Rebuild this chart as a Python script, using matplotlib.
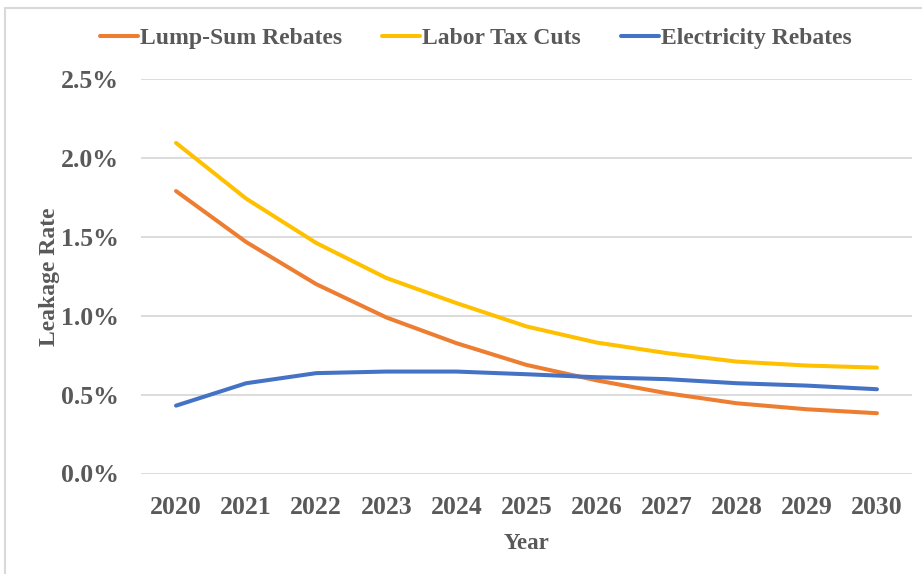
import numpy as np
import matplotlib
matplotlib.use("Agg")
import matplotlib.pyplot as plt
from matplotlib.patches import Rectangle
from matplotlib.ticker import FuncFormatter

years = [2020, 2021, 2022, 2023, 2024, 2025, 2026, 2027, 2028, 2029, 2030]
lump_sum = [1.79, 1.467, 1.20, 0.989, 0.826, 0.688, 0.59, 0.509, 0.445, 0.407, 0.382]
labor_tax = [2.095, 1.742, 1.461, 1.239, 1.08, 0.932, 0.83, 0.763, 0.709, 0.684, 0.671]
electricity = [0.43, 0.572, 0.636, 0.646, 0.646, 0.629, 0.61, 0.598, 0.572, 0.557, 0.534]

text_col = '#595959'
plt.rcParams['font.family'] = ['Liberation Serif', 'DejaVu Serif']
plt.rcParams['font.weight'] = 'bold'

fig = plt.figure(figsize=(9.22, 5.74), dpi=100)
ax = fig.add_axes([141/922, 1-473.5/574, (912-141)/922, (473.5-79)/574])

x = np.arange(len(years))
ax.plot(x, lump_sum, color='#ED7D31', lw=2.9, label='Lump-Sum Rebates', solid_capstyle='round')
ax.plot(x, labor_tax, color='#FFC000', lw=2.9, label='Labor Tax Cuts', solid_capstyle='round')
ax.plot(x, electricity, color='#4472C4', lw=2.9, label='Electricity Rebates', solid_capstyle='round')

ax.set_xlim(-0.5, len(years) - 0.5)
ax.set_ylim(0, 2.5)
ax.set_yticks(np.arange(0, 2.51, 0.5))
ax.yaxis.set_major_formatter(FuncFormatter(lambda v, p: '%.1f%%' % v))
ax.set_xticks(x)
ax.set_xticklabels([str(y) for y in years])
ax.grid(axis='y', color='#D9D9D9', lw=1.3)
ax.set_axisbelow(True)
for s in ax.spines.values():
    s.set_visible(False)
ax.tick_params(axis='both', length=0, labelsize=18.5, colors=text_col)
ax.tick_params(axis='y', pad=16)
ax.tick_params(axis='x', pad=16)

ax.set_xlabel('Year', fontsize=16.5, color=text_col, fontweight='bold', labelpad=10)
ax.set_ylabel('Leakage Rate', fontsize=17, color=text_col, fontweight='bold')
ax.yaxis.set_label_coords(-0.105, 0.5)

fig.legend(loc='center', bbox_to_anchor=(476/922, 1-38/574), ncol=3, frameon=False,
           fontsize=17, handlelength=1.6, handletextpad=0.1, columnspacing=1.7,
           labelcolor=text_col)

# light frame around chart
fig.patches.append(Rectangle((5/922, -0.1), 1.2, 1-8/574+0.1, transform=fig.transFigure,
                             fill=False, edgecolor='#D9D9D9', lw=1.5))

fig.savefig('out.png', dpi=100)
